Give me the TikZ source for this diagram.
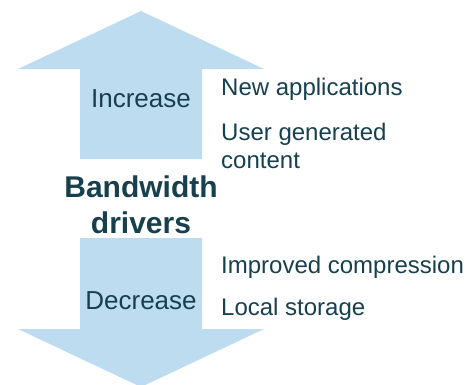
\documentclass[tikz,border=0pt]{standalone}
\usepackage{fontspec}
\setmainfont{Liberation Sans}
\definecolor{arrowfill}{RGB}{189,220,239}
\definecolor{textdark}{RGB}{22,64,78}
\begin{document}
\begin{tikzpicture}[x=1pt,y=-1pt,
  arrowshape/.style={fill=arrowfill,draw=none},
  lbl/.style={text=textdark,inner sep=0pt,font=\fontsize{24}{28}\selectfont},
  biglbl/.style={text=textdark,inner sep=0pt,font=\fontsize{26}{30}\selectfont},
  title/.style={text=textdark,inner sep=0pt,align=center,font=\bfseries\fontsize{30}{36}\selectfont}]
\useasboundingbox (0,0) rectangle (470,384);
% up arrow
\fill[arrowshape] (80,159) -- (80,69) -- (18,69) -- (141,11) -- (264,69) -- (202,69) -- (202,159) -- cycle;
% down arrow
\fill[arrowshape] (80,238) -- (202,238) -- (202,329) -- (264,329) -- (141,387) -- (18,329) -- (80,329) -- cycle;
\node[biglbl,anchor=base] (inc) at (141,107) {Increase};
\node[biglbl,anchor=base] (dec) at (141,309) {Decrease};
\node[title,anchor=base] (bw) at (141,233) {Bandwidth\\drivers};
\node[lbl,anchor=base west] (newapp) at (221,95) {New applications};
\node[lbl,anchor=base west,align=left] (ugc) at (221,168) {User generated\\content};
\node[lbl,anchor=base west] (imp) at (221,273) {Improved compression};
\node[lbl,anchor=base west] (loc) at (221,315) {Local storage};
\end{tikzpicture}
\end{document}
